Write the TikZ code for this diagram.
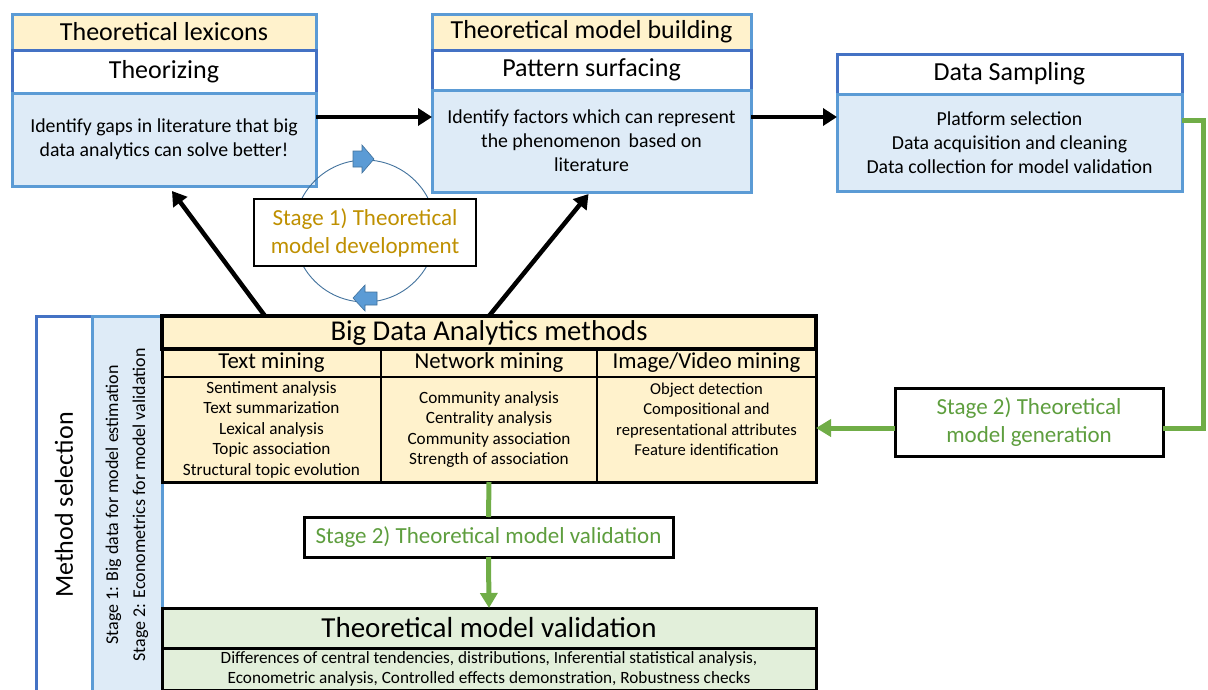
\documentclass[tikz,border=0pt]{standalone}
\usepackage{fontspec}
\setmainfont{Carlito}
\usetikzlibrary{arrows.meta}
\definecolor{hdrY}{HTML}{FFF2CC}
\definecolor{bodyB}{HTML}{DEEBF7}
\definecolor{bordB}{HTML}{5B9BD5}
\definecolor{bordD}{HTML}{4472C4}
\definecolor{grn}{HTML}{70AD47}
\definecolor{grnT}{HTML}{5E9E3E}
\definecolor{gold}{HTML}{BF9000}
\definecolor{grnF}{HTML}{E2EFDA}
\definecolor{cyc}{HTML}{41719C}
\newcommand{\fs}[2]{\fontsize{#1pt}{#2pt}\selectfont}
\tikzset{
  bx/.style={anchor=north west, inner sep=0pt, outer sep=0pt, align=center, text=black},
  yhdr/.style={bx, fill=hdrY, draw=bordB, line width=3pt, font=\fs{26}{30}},
  whdr/.style={bx, fill=white, draw=bordD, line width=3pt, font=\fs{26}{30}},
  bbody/.style={bx, fill=bodyB, draw=bordB, line width=3pt, font=\fs{19.8}{24}},
  colhdr/.style={bx, fill=hdrY, draw=black, line width=2pt, font=\fs{22.8}{26}},
  colbody/.style={bx, fill=hdrY, draw=black, line width=2pt, font=\fs{17.2}{20.5}},
  stagebox/.style={bx, fill=white, draw=black, line width=3pt, text=grnT},
  blk/.style={line width=4.5pt, -{Triangle[length=14pt,width=17pt]}},
  gline/.style={draw=grn, line width=5pt},
  garr/.style={draw=grn, line width=5pt, -{Triangle[length=15pt,width=17pt]}},
  barrow/.style={fill=bordB, draw=cyc, line width=0.6pt, line join=miter},
}
\begin{document}
\begin{tikzpicture}[x=1pt,y=-1pt]
\useasboundingbox (0,0) rectangle (1208,689);

% ---- Theorizing group
\node[yhdr, minimum width=304pt, minimum height=36pt] (lexH) at (12,14) {Theoretical lexicons};
\node[whdr, minimum width=304pt, minimum height=43pt] (lexW) at (12,50) {Theorizing};
\node[bbody, minimum width=304pt, minimum height=93pt] (lexB) at (12,93)
  {Identify gaps in literature that big\\data analytics can solve better!};

% ---- Pattern surfacing group
\node[yhdr, minimum width=319pt, minimum height=36pt] (patH) at (432,14) {Theoretical model building};
\node[whdr, minimum width=319pt, minimum height=40pt] (patW) at (432,50) {Pattern surfacing};
\node[bbody, minimum width=319pt, minimum height=102pt] (patB) at (432,90)
  {Identify factors which can represent\\the phenomenon\, based on\\literature};

% ---- Data sampling
\node[whdr, minimum width=345pt, minimum height=40pt] (dsW) at (837,54) {Data Sampling};
\node[bbody, minimum width=345pt, minimum height=97pt] (dsB) at (837,94)
  {Platform selection\\Data acquisition and cleaning\\Data collection for model validation};

% ---- horizontal black arrows
\draw[blk] ([yshift=22.5pt]lexB.east) -- ([yshift=24pt]patB.west);
\draw[blk] ([yshift=24pt]patB.east) -- ([yshift=25.5pt]dsB.west);

% ---- cycle
\coordinate (cc) at (365,231);
\draw[cyc, line width=0.9pt] (cc) circle[radius=71pt];
\filldraw[barrow] (353,151) -- (362,151) -- (362,145) -- (374,159) -- (362,173) -- (362,167) -- (353,167) -- cycle;
\filldraw[barrow] (377,292) -- (365,292) -- (365,285) -- (353,298) -- (365,311) -- (365,305) -- (377,305) -- cycle;
\node[bx, fill=white, draw=black, line width=1.5pt, minimum width=222pt, minimum height=67pt,
      text=gold, font=\fs{23}{28}] (st1) at (254,199) {Stage 1) Theoretical\\model development};

% ---- Method selection
\node[draw=bordD, fill=white, line width=3pt, rotate=90, minimum width=378pt, minimum height=56pt,
      inner sep=0pt, font=\fs{26}{28}] (msel) at (64,505) {Method selection};
\node[draw=bordB, fill=bodyB, line width=3pt, rotate=90, minimum width=378pt, minimum height=70pt,
      inner sep=0pt, align=center, font=\fs{18}{27}] (stg) at (127,505)
  {Stage 1: Big data for model estimation\\Stage 2: Econometrics for model validation};

% ---- Big data analytics table
\node[colhdr, minimum width=219pt, minimum height=28pt] (tmH) at (162,349) {Text mining};
\node[colhdr, minimum width=216pt, minimum height=28pt] (nmH) at (381,349) {Network mining};
\node[colhdr, minimum width=219pt, minimum height=28pt] (imH) at (597,349) {Image/Video mining};
\node[colbody, minimum width=219pt, minimum height=105pt] (tmB) at (162,377)
  {Sentiment analysis\\Text summarization\\Lexical analysis\\Topic association\\Structural topic evolution};
\node[colbody, minimum width=216pt, minimum height=105pt] (nmB) at (381,377)
  {Community analysis\\Centrality analysis\\Community association\\Strength of association};
\node[colbody, minimum width=219pt, minimum height=105pt, font=\fs{16.6}{20.5}] (imB) at (597,377)
  {Object detection\\Compositional and\\representational attributes\\Feature identification\\\mbox{}};
\draw[line width=3pt] (tmH.north west) rectangle (imB.south east);
\node[bx, fill=hdrY, draw=black, line width=4pt, minimum width=654pt, minimum height=33pt,
      font=\fs{28.7}{30}] (bda) at (162,316) {Big Data Analytics methods};

% ---- Stage 2 generation route
\coordinate (gc) at (1203,428);
\node[stagebox, minimum width=268pt, minimum height=68pt, font=\fs{23}{28}] (s2g) at (895,388)
  {Stage 2) Theoretical\\model generation};
\draw[gline] ([yshift=22.5pt]dsB.east) -| (gc) -- (gc -| s2g.east);
\draw[garr] ([yshift=-6pt]s2g.west) -- ([yshift=-6pt]s2g.west -| imB.east);

% ---- Stage 2 validation
\node[stagebox, minimum width=369pt, minimum height=40pt, font=\fs{23}{26}] (s2v) at (304,517)
  {Stage 2) Theoretical model validation};
\draw[gline] (nmB.south) -- (s2v.north);

% ---- Theoretical model validation
\node[bx, fill=grnF, draw=black, line width=3pt, minimum width=654pt, minimum height=40pt,
      font=\fs{29}{30}] (tmvH) at (162,608) {Theoretical model validation};
\node[bx, fill=grnF, draw=black, line width=3pt, minimum width=654pt, minimum height=42pt,
      font=\fs{17.2}{20}] (tmvB) at (162,648)
  {Differences of central tendencies, distributions, Inferential statistical analysis,\\Econometric analysis, Controlled effects demonstration, Robustness checks};
\draw[garr] (s2v.south) -- (tmvH.north);

% ---- diagonal arrows
\draw[blk] ([xshift=103pt]bda.north west) -- ([xshift=8pt,yshift=-5pt]lexB.south);
\draw[blk] (bda.north) -- ([xshift=-3pt,yshift=-2pt]patB.south);
\end{tikzpicture}
\end{document}
